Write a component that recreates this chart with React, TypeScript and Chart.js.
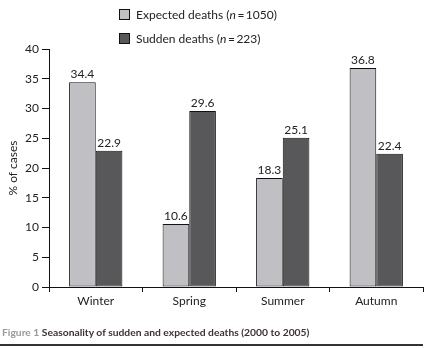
import React, { useEffect, useRef } from "react";
import { Chart, registerables } from "chart.js";

Chart.register(...registerables);

const categories = ["Winter", "Spring", "Summer", "Autumn"];
const expectedDeaths = [34.4, 10.6, 18.3, 36.8];
const suddenDeaths = [22.9, 29.6, 25.1, 22.4];
const yTicks = [0, 5, 10, 15, 20, 25, 30, 35, 40];

const FONT = "Lato, 'Open Sans', sans-serif";

const valueLabels = {
  id: "valueLabels",
  afterDatasetsDraw(chart: any) {
    const ctx = chart.ctx;
    ctx.save();
    ctx.font = `12px ${FONT}`;
    ctx.fillStyle = "#222";
    ctx.textAlign = "center";
    ctx.textBaseline = "bottom";
    chart.data.datasets.forEach((ds: any, di: number) => {
      const meta = chart.getDatasetMeta(di);
      meta.data.forEach((el: any, i: number) => {
        ctx.fillText(ds.data[i].toFixed(1), el.x, el.y - 2);
      });
    });
    ctx.restore();
  },
};

export default function App() {
  const ref = useRef<HTMLCanvasElement | null>(null);
  useEffect(() => {
    if (!ref.current) return;
    const chart = new Chart(ref.current, {
      type: "bar",
      data: {
        labels: categories,
        datasets: [
          {
            label: "Expected deaths",
            data: expectedDeaths,
            backgroundColor: "#c0c0c4",
            borderColor: "#111",
            borderWidth: 1,
            borderSkipped: false,
            categoryPercentage: 0.57,
            barPercentage: 1,
          },
          {
            label: "Sudden deaths",
            data: suddenDeaths,
            backgroundColor: "#58585b",
            borderColor: "#111",
            borderWidth: 1,
            borderSkipped: false,
            categoryPercentage: 0.57,
            barPercentage: 1,
          },
        ],
      },
      options: {
        responsive: false,
        animation: false,
        events: [],
        layout: { padding: { left: 0, top: 49, right: 6, bottom: 36 } },
        plugins: { legend: { display: false }, tooltip: { enabled: false } },
        scales: {
          x: {
            grid: {
              offset: true,
              drawOnChartArea: false,
              tickLength: 5,
              color: "#111",
            },
            border: { color: "#111", width: 1 },
            ticks: { font: { family: FONT, size: 12 }, color: "#222", padding: 2 },
            afterFit: (s: any) => {
              s.height = 25;
            },
          },
          y: {
            min: 0,
            max: 40,
            afterBuildTicks: (s: any) => {
              s.ticks = yTicks.map((v) => ({ value: v }));
            },
            grid: { drawOnChartArea: false, tickLength: 7, color: "#111" },
            border: { color: "#111", width: 1 },
            ticks: { font: { family: FONT, size: 12 }, color: "#222", padding: 3 },
            title: {
              display: true,
              text: "% of cases",
              font: { family: FONT, size: 12 },
              color: "#222",
              padding: { top: 6, bottom: 0 },
            },
            afterFit: (s: any) => {
              s.width = 49;
            },
          },
        },
      },
      plugins: [valueLabels],
    });
    return () => chart.destroy();
  }, []);

  const legendItem = (color: string, top: number, children: React.ReactNode) => (
    <div style={{ position: "absolute", left: 119, top, display: "flex", alignItems: "center", height: 14 }}>
      <div style={{ width: 9, height: 9, background: color, border: "1px solid #111", marginRight: 6 }} />
      <span style={{ fontFamily: FONT, fontSize: 12, color: "#222", whiteSpace: "nowrap" }}>{children}</span>
    </div>
  );

  return (
    <div style={{ position: "fixed", left: 0, top: 0, width: 429, height: 348, background: "#fff", overflow: "hidden" }}>
      <canvas ref={ref} width={429} height={348} style={{ position: "absolute", left: 0, top: 0, width: 429, height: 348 }} />
      {legendItem("#c0c0c4", 7, <>Expected deaths (<i>n</i>{"\u2009=\u2009"}1050)</>)}
      {legendItem("#58585b", 31, <>Sudden deaths (<i>n</i>{"\u2009=\u2009"}223)</>)}
      <div style={{ position: "absolute", left: 2, top: 326, fontFamily: FONT, fontSize: 10.3, fontWeight: 700, whiteSpace: "nowrap" }}>
        <span style={{ color: "#9a9a9a" }}>Figure 1 </span>
        <span style={{ color: "#3e3232" }}>Seasonality of sudden and expected deaths (2000 to 2005)</span>
      </div>
      <div style={{ position: "absolute", left: 0, top: 344, width: 423, height: 2, background: "#333" }} />
    </div>
  );
}
